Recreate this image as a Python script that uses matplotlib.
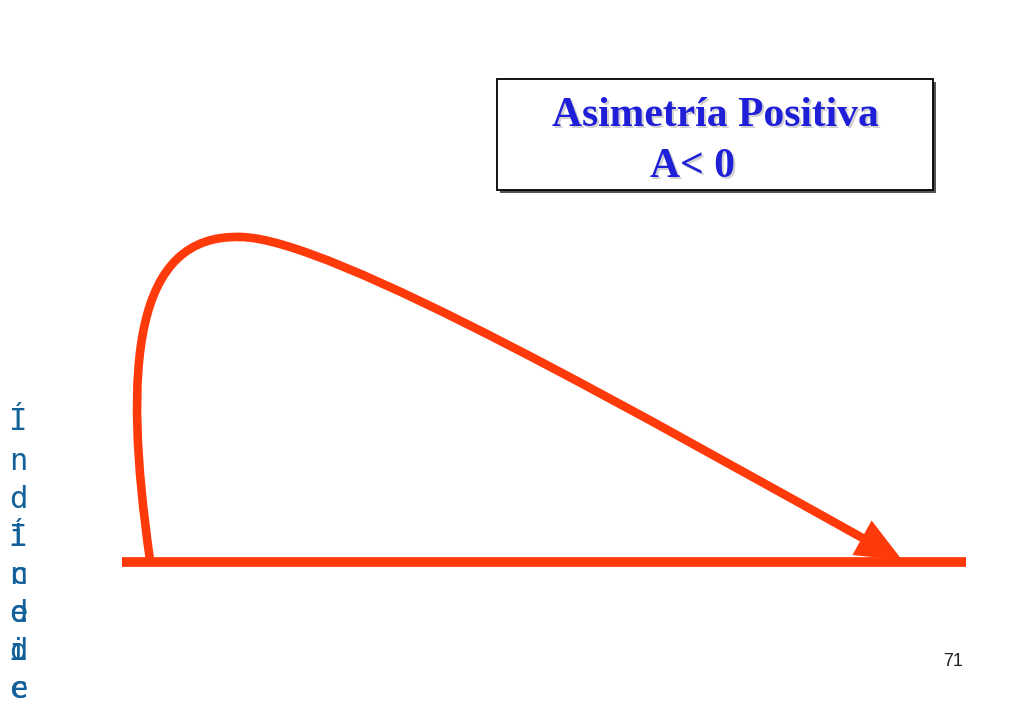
import numpy as np
import matplotlib
matplotlib.use("Agg")
import matplotlib.pyplot as plt
from matplotlib.path import Path
from matplotlib.patches import PathPatch, FancyArrowPatch, Rectangle

# ----------------------------
# Data (page pixel coordinates, y grows downward)
# ----------------------------
TITLE_LINES = ["Asimetría Positiva", "A< 0"]
PAGE_NUMBER = "71"

# left rising part of the skewed curve: start, two controls, peak
rise_x = [150, 122, 134, 240]
rise_y = [560, 365, 234, 237]
# long right tail down to the arrow tip
tail_x = [240, 330, 650, 902]
tail_y = [237, 237, 420, 560]

# baseline
base_x = [122, 966]
base_y = [562, 562]

# overlapping vertical letters on the left margin
side_a = ["Í", "n", "d", "i", "c", "e", "d", "e"]
side_b = ["Í", "n", "d", "i", "c"]
side_rows = [421, 462, 499, 537, 575, 613, 651, 690]

RED = "#ff3a0a"
BLUE = "#1f1fd8"
SIDE = "#12609a"

# ----------------------------
# Figure
# ----------------------------
fig = plt.figure(figsize=(10.24, 7.09), dpi=100)
ax = fig.add_axes([0, 0, 1, 1])
ax.set_xlim(0, 1024)
ax.set_ylim(709, 0)
ax.axis("off")

# baseline
ax.plot(base_x, base_y, color=RED, lw=7, solid_capstyle="butt")

# rising part
codes = [Path.MOVETO, Path.CURVE4, Path.CURVE4, Path.CURVE4]
rise = Path(np.column_stack([rise_x, rise_y]), codes)
ax.add_patch(PathPatch(rise, fill=False, edgecolor=RED, lw=6.2, capstyle="round"))

# tail with arrow head
tail = Path(np.column_stack([tail_x, tail_y]), codes)
arrow = FancyArrowPatch(path=tail, arrowstyle="-|>,head_length=2.2,head_width=0.95",
                        mutation_scale=10, color=RED, lw=6.2, joinstyle="miter")
ax.add_patch(arrow)

# title box with shadow
ax.add_patch(Rectangle((500, 82), 436, 111, facecolor="#555555", edgecolor="none"))
ax.add_patch(Rectangle((497, 79), 436, 111, facecolor="white", edgecolor="black", lw=1.3))

for i, (line, xpos) in enumerate(zip(TITLE_LINES, [715, 692])):
    ypos = 116 + i * 51
    ax.text(xpos + 2, ypos + 2, line, ha="center", va="center", fontsize=30,
            fontweight="bold", family="Liberation Serif", color="#d0d0d0")
    ax.text(xpos, ypos, line, ha="center", va="center", fontsize=30,
            fontweight="bold", family="Liberation Serif", color=BLUE)

# side letters (two overlapping columns)
for ch, y in zip(side_a, side_rows):
    ax.text(18, y, ch, ha="center", va="center", fontsize=22,
            family="DejaVu Sans Mono", color=SIDE)
for ch, y in zip(side_b, side_rows[3:]):
    ax.text(18, y, ch, ha="center", va="center", fontsize=22,
            family="DejaVu Sans Mono", color=SIDE)

# page number
ax.text(953, 662, PAGE_NUMBER, ha="center", va="center", fontsize=13,
        family="Liberation Sans", color="#222222")

plt.savefig("out.png", dpi=100)
plt.close()
